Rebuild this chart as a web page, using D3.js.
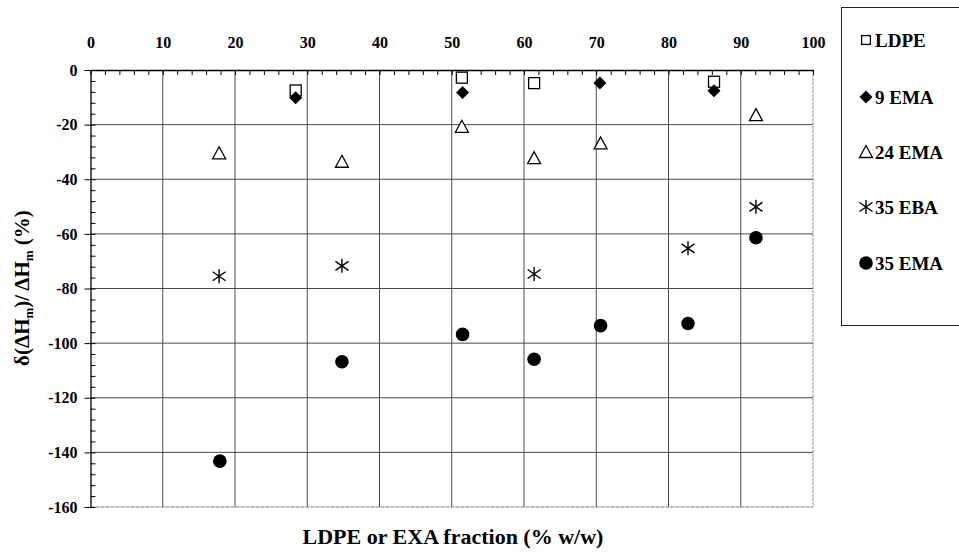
<!DOCTYPE html>
<html>
<head>
<meta charset="utf-8">
<script src="https://cdn.jsdelivr.net/npm/d3@7"></script>
<style>
  html, body { margin: 0; padding: 0; background: #fff; }
  svg { display: block; }
</style>
</head>
<body>
<svg id="chart" width="959" height="556"></svg>
<script>
// Fraction of LDPE or copolymer (% w/w) at which each blend was measured
const ldpeX   = [28.4, 51.4, 61.4, 86.3];
const ldpeY   = [-7.5, -2.8, -4.8, -4.3];
const ema9X   = [28.4, 51.5, 70.5, 86.3];
const ema9Y   = [-10.2, -8.2, -4.8, -7.6];
const ema24X  = [17.8, 34.8, 51.4, 61.4, 70.6, 92.1];
const ema24Y  = [-30.5, -33.6, -20.8, -32.3, -26.9, -16.5];
const eba35X  = [17.8, 34.8, 61.4, 82.7, 92.1];
const eba35Y  = [-75.5, -71.7, -74.7, -65.3, -50.1];
const ema35X  = [17.9, 34.8, 51.5, 61.4, 70.6, 82.7, 92.1];
const ema35Y  = [-143.2, -106.8, -96.8, -105.9, -93.6, -92.8, -61.4];

const seriesNames = ["LDPE", "9 EMA", "24 EMA", "35 EBA", "35 EMA"];
const xTicks = [0, 10, 20, 30, 40, 50, 60, 70, 80, 90, 100];
const yTicks = [0, -20, -40, -60, -80, -100, -120, -140, -160];

const FONT = '"Liberation Serif", "Times New Roman", serif';
const svg = d3.select("#chart");
const plotL = 90.5, plotR = 813, plotT = 70, plotB = 507;

const x = d3.scaleLinear().domain([0, 100]).range([plotL, plotR]);
const y = d3.scaleLinear().domain([0, -160]).range([plotT, plotB]);

const styleText = sel => sel.style("font-family", FONT).style("font-weight", "bold").attr("fill", "#000");
const plainNum = d => String(d);

// grid
const grid = svg.append("g");
grid.selectAll("line.v").data(xTicks.slice(1)).join("line")
  .attr("x1", d => x(d)).attr("x2", d => x(d))
  .attr("y1", plotT).attr("y2", plotB)
  .attr("stroke", d => d === 100 ? "#8a8a8a" : "#4a4a4a").attr("stroke-width", 1)
  .attr("stroke-dasharray", d => d === 100 ? "3,1" : null);
grid.selectAll("line.h").data(yTicks.slice(1)).join("line")
  .attr("x1", plotL).attr("x2", plotR)
  .attr("y1", d => y(d)).attr("y2", d => y(d))
  .attr("stroke", d => d === -160 ? "#7a7a7a" : "#4a4a4a").attr("stroke-width", 1)
  .attr("stroke-dasharray", d => d === -160 ? "4,1" : null);

// top axis: labels and inward minor ticks every 2
const xMinor = d3.range(0, 101, 2);
svg.append("g").attr("transform", `translate(0,${plotT})`)
  .call(d3.axisTop(x).tickValues(xMinor).tickSizeInner(-5).tickSizeOuter(0).tickFormat(""))
  .call(g => g.select(".domain").attr("stroke", "#000").attr("stroke-width", 1.3));
svg.append("g").attr("transform", `translate(0,${plotT})`)
  .call(d3.axisTop(x).tickValues(xTicks).tickSize(0).tickPadding(22).tickFormat(plainNum))
  .call(g => g.select(".domain").remove())
  .call(g => g.selectAll("text").call(styleText).style("font-size", "16px"));

// left axis: inward minor ticks every 4, outward major ticks every 20
const yMinor = d3.range(0, -161, -4);
svg.append("g").attr("transform", `translate(${plotL},0)`)
  .call(d3.axisLeft(y).tickValues(yMinor).tickSizeInner(-5).tickSizeOuter(0).tickFormat(""))
  .call(g => g.select(".domain").attr("stroke", "#000").attr("stroke-width", 1.3));
svg.append("g").attr("transform", `translate(${plotL},0)`)
  .call(d3.axisLeft(y).tickValues(yTicks).tickSize(6).tickPadding(7).tickFormat(plainNum))
  .call(g => g.select(".domain").remove())
  .call(g => g.selectAll("line").attr("stroke", "#000"))
  .call(g => g.selectAll("text").call(styleText).style("font-size", "16px"));

// marker shapes
const drawers = {
  "LDPE": (g, s = 1) => g.append("rect").attr("x", -5.5 * s).attr("y", -5.5 * s)
    .attr("width", 11 * s).attr("height", 11 * s)
    .attr("fill", "#fff").attr("stroke", "#000").attr("stroke-width", 1.3),
  "9 EMA": (g) => g.append("path").attr("d", "M0,-6.5L6.5,0L0,6.5L-6.5,0Z").attr("fill", "#000"),
  "24 EMA": (g) => g.append("path").attr("d", "M0,-6.5L6.5,5.5L-6.5,5.5Z")
    .attr("fill", "#fff").attr("stroke", "#000").attr("stroke-width", 1.3),
  "35 EBA": (g) => g.append("path").attr("d", "M0,-7V7M-6.5,-4.5L6.5,4.5M-6.5,4.5L6.5,-4.5")
    .attr("fill", "none").attr("stroke", "#000").attr("stroke-width", 1.4),
  "35 EMA": (g) => g.append("circle").attr("r", 6.8).attr("fill", "#000")
};

const seriesData = [
  [ldpeX, ldpeY], [ema9X, ema9Y], [ema24X, ema24Y], [eba35X, eba35Y], [ema35X, ema35Y]
];

const marks = svg.append("g");
seriesNames.forEach((name, i) => {
  const [xs, ys] = seriesData[i];
  xs.forEach((xv, j) => {
    const g = marks.append("g").attr("transform", `translate(${x(xv)},${y(ys[j])})`);
    drawers[name](g);
  });
});

// axis titles
svg.append("text").attr("x", 453).attr("y", 544).attr("text-anchor", "middle")
  .call(styleText).style("font-size", "22px").text("LDPE or EXA fraction (% w/w)");

const yt = svg.append("text").attr("transform", "translate(29,288) rotate(-90)")
  .attr("text-anchor", "middle").call(styleText).style("font-size", "21px");
yt.append("tspan").text("δ(ΔH");
yt.append("tspan").style("font-size", "13px").attr("dy", 4).text("m");
yt.append("tspan").attr("dy", -4).text(")/ ΔH");
yt.append("tspan").style("font-size", "13px").attr("dy", 4).text("m");
yt.append("tspan").attr("dy", -4).text(" (%)");

// legend
const lg = svg.append("g");
lg.append("rect").attr("x", 841.5).attr("y", 7.5).attr("width", 140).attr("height", 318)
  .attr("fill", "#fff").attr("stroke", "#222").attr("stroke-width", 1);
const legendY = [40, 97, 152, 207, 263];
seriesNames.forEach((name, i) => {
  const g = lg.append("g").attr("transform", `translate(866,${legendY[i]})`);
  drawers[name](g, 0.8);
  lg.append("text").attr("x", 875).attr("y", legendY[i]).attr("dy", "0.35em")
    .call(styleText).style("font-size", "19px").text(name);
});
</script>
</body>
</html>
